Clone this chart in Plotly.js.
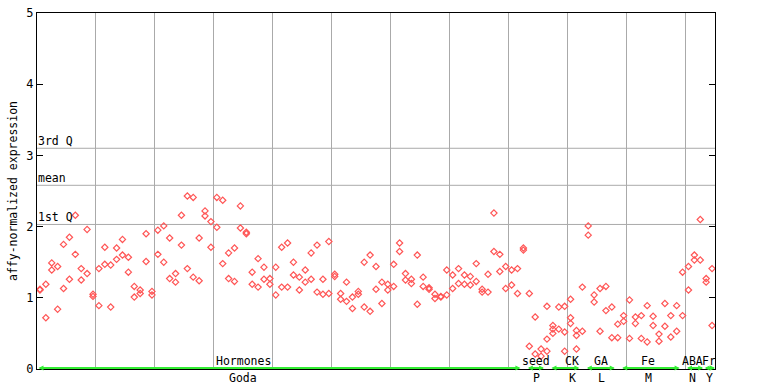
<!DOCTYPE html>
<html>
<head>
<meta charset="utf-8">
<script src="https://cdn.plot.ly/plotly-3.0.1.min.js"></script>
<style>html,body{margin:0;padding:0;background:#fff;}#chart{width:768px;height:384px;}</style>
</head>
<body>
<div id="chart"></div>
<script>
// replicate A values per sample position
var repA = [1.11,1.19,1.49,1.44,1.75,1.85,2.16,1.41,1.96,1.05,
            1.41,1.71,1.46,1.70,1.82,1.57,1.16,1.11,1.90,1.09,
            1.95,2.01,1.84,1.34,2.16,2.43,2.41,1.84,2.22,2.07,
            2.41,2.37,1.63,1.70,2.29,1.92,1.36,1.55,1.43,1.27,
            1.43,1.71,1.77,1.50,1.29,1.39,1.63,1.74,1.26,1.79,
            1.33,1.06,1.22,1.01,1.09,1.50,1.60,1.44,1.22,1.19,
            1.47,1.77,1.34,1.26,1.60,1.29,1.14,1.05,1.02,1.39,
            1.32,1.41,1.32,1.30,1.48,1.12,1.33,2.19,1.61,1.44,
            1.39,1.41,1.70,1.06,0.73,0.28,0.88,0.61,0.87,0.88,
            0.98,0.54,1.15,2.01,1.04,1.13,1.16,0.87,0.63,0.75,
            0.97,0.73,0.75,0.89,0.74,0.49,0.92,0.75,0.89,1.36,
            1.44,1.60,2.10,1.27,1.41];
// replicate B values per sample position
var repB = [1.12,0.72,1.39,0.84,1.13,1.26,1.61,1.25,1.34,1.02,
            0.89,1.47,0.87,1.54,1.60,1.36,1.01,1.06,1.51,1.04,
            1.61,1.50,1.27,1.22,1.74,1.41,1.29,1.24,2.15,1.71,
            1.99,1.48,1.27,1.23,1.98,1.90,1.19,1.15,1.26,1.19,
            1.04,1.15,1.15,1.32,1.11,1.22,1.26,1.08,1.05,1.06,
            1.30,0.98,0.95,0.85,1.05,0.87,0.81,1.12,0.92,1.11,
            1.16,1.65,1.25,1.20,0.91,1.16,1.12,0.99,1.01,1.04,
            1.13,1.20,1.19,1.18,1.23,1.08,1.08,1.65,1.37,1.13,
            1.18,1.06,1.67,0.32,0.21,0.18,0.42,0.56,0.56,0.52,
            0.72,0.47,0.53,1.88,0.94,0.53,0.82,0.44,0.44,0.67,
            0.43,0.64,0.43,0.38,0.61,0.39,0.60,0.45,0.53,0.75,
            1.11,1.53,1.53,1.22,0.61];
// extra third replicates
var extraIdx = [86, 87, 89, 90, 91];
var extraVal = [0.25, 0.50, 0.25, 0.64, 0.28];

// quartile reference lines
var refNames = ['3rd Q', 'mean', '1st Q'];
var refVals = [3.10, 2.58, 2.03];

// groups along the x axis
var groupTop = ['Hormones', 'seed', 'CK', 'GA', 'Fe', 'ABA', 'Fr'];
var groupBottom = ['Goda', 'P', 'K', 'L', 'M', 'N', 'Y'];
var groupStart = [-0.5, 82.5, 86.5, 92.5, 98.5, 109.5, 112.5];
var groupEnd = [81.5, 85.5, 91.5, 97.5, 108.5, 112.5, 114.5];
var groupLabelX = [34.5, 84.2, 90.3, 95.2, 103.2, 110.6, 113.5];

var yTicks = [0, 1, 2, 3, 4, 5];

var xs = [], ys = [];
for (var i = 0; i < repA.length; i++) { xs.push(i); ys.push(repA[i]); }
for (var i = 0; i < repB.length; i++) { xs.push(i); ys.push(repB[i]); }
for (var i = 0; i < extraIdx.length; i++) { xs.push(extraIdx[i]); ys.push(extraVal[i]); }

var mono = 'DejaVu Sans Mono, monospace';

var shapes = refVals.map(function (v) {
  return {type: 'line', xref: 'paper', x0: 0, x1: 1, yref: 'y', y0: v, y1: v,
          line: {color: '#aaaaaa', width: 1}, layer: 'below'};
});

var annotations = [];
refNames.forEach(function (n, k) {
  annotations.push({xref: 'paper', x: 0, yref: 'y', y: refVals[k], text: n,
    showarrow: false, xanchor: 'left', yanchor: 'bottom', yshift: -2, xshift: -1,
    font: {family: mono, size: 11.5, color: '#000'}});
});
groupTop.forEach(function (n, k) {
  annotations.push({xref: 'x', yref: 'y', x: groupEnd[k], y: 0.015,
    ax: groupStart[k], ay: 0.015, axref: 'x', ayref: 'y', text: '',
    showarrow: true, arrowside: 'end+start', arrowhead: 2, arrowsize: 0.5,
    arrowwidth: 2, arrowcolor: '#33ee33', standoff: 0, startstandoff: 0});
  annotations.push({xref: 'x', yref: 'y', x: groupLabelX[k], y: 0, text: n,
    showarrow: false, xanchor: 'center', yanchor: 'bottom', yshift: -1,
    font: {family: mono, size: 11.5, color: '#000'}});
  annotations.push({xref: 'x', yref: 'y', x: groupLabelX[k], y: 0, text: groupBottom[k],
    showarrow: false, xanchor: 'center', yanchor: 'top', yshift: 0,
    font: {family: mono, size: 11.5, color: '#000'}});
});

var trace = {
  type: 'scatter', mode: 'markers', x: xs, y: ys,
  marker: {symbol: 'diamond-open', size: 4.8, color: '#ff5555', line: {width: 1.2, color: '#ff5555'}},
  hoverinfo: 'none', cliponaxis: false
};

var layout = {
  width: 768, height: 384,
  margin: {l: 37, r: 53, t: 13, b: 15, pad: 0},
  paper_bgcolor: '#fff', plot_bgcolor: '#fff',
  showlegend: false,
  font: {family: mono, size: 11.5, color: '#000'},
  xaxis: {range: [-0.5, 114.5], showgrid: true, gridcolor: '#aaaaaa', gridwidth: 1,
          tick0: -0.5, dtick: 10, showticklabels: false, ticks: '', zeroline: false,
          showline: true, linecolor: '#000', linewidth: 1, mirror: true, fixedrange: true},
  yaxis: {range: [0, 5], tickvals: yTicks, ticktext: yTicks.map(String), showgrid: false,
          zeroline: false, showline: true, linecolor: '#000', linewidth: 1, mirror: 'ticks',
          ticks: 'inside', ticklen: 6, tickcolor: '#000', tickwidth: 1,
          tickfont: {family: mono, size: 12, color: '#000'},
          title: {text: 'affy-normalized expression', standoff: 6,
                  font: {family: mono, size: 11.5, color: '#000'}}, fixedrange: true},
  shapes: shapes,
  annotations: annotations
};

Plotly.newPlot('chart', [trace], layout, {displayModeBar: false, staticPlot: true});
</script>
</body>
</html>
